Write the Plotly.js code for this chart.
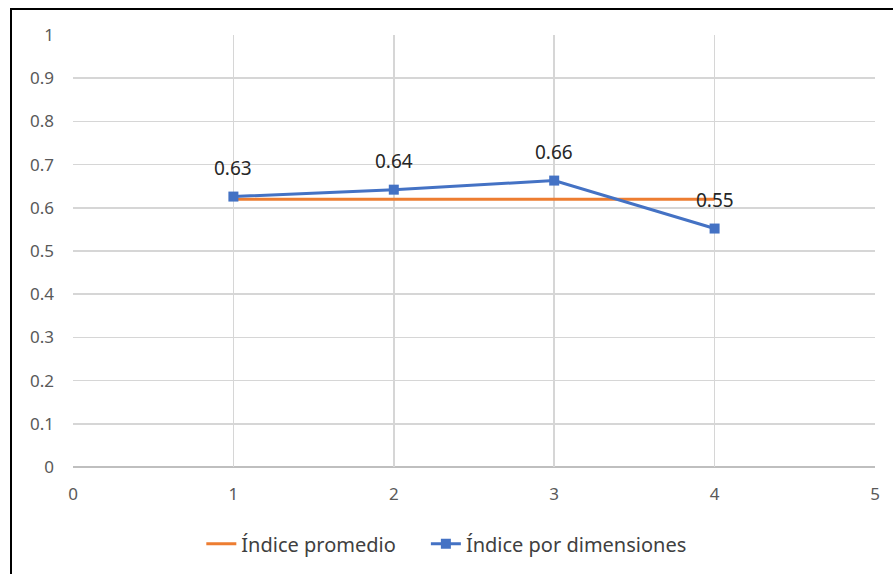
<!DOCTYPE html>
<html>
<head>
<meta charset="utf-8">
<script src="https://cdn.plot.ly/plotly-3.0.1.min.js"></script>
<style>
html,body{margin:0;padding:0;background:#fff;}
#wrap{position:relative;width:893px;height:574px;}
#chart{width:893px;height:574px;}
#frame{position:absolute;left:10px;top:8px;right:-10px;bottom:-10px;border-left:2.5px solid #000;border-top:2.5px solid #000;pointer-events:none;}
</style>
</head>
<body>
<div id="wrap"><div id="chart"></div><div id="frame"></div></div>
<script>
const xValues = [1, 2, 3, 4];
const promedio = [0.62, 0.62, 0.62, 0.62];
const dimensiones = [0.626, 0.642, 0.663, 0.552];
const dimLabels = ["0.63", "0.64", "0.66", "0.55"];
const xTicks = [0, 1, 2, 3, 4, 5];
const yTicks = [0, 0.1, 0.2, 0.3, 0.4, 0.5, 0.6, 0.7, 0.8, 0.9, 1];
const yTickText = ["0", "0.1", "0.2", "0.3", "0.4", "0.5", "0.6", "0.7", "0.8", "0.9", "1"];

const font = "Noto Sans, Open Sans, sans-serif";

const traces = [
  {
    x: xValues, y: promedio, name: "Índice promedio", type: "scatter", mode: "lines",
    line: {color: "#ED7D31", width: 3}, legend: "legend"
  },
  {
    x: xValues, y: dimensiones, name: "Índice por dimensiones", type: "scatter", mode: "lines+markers",
    line: {color: "#4472C4", width: 3},
    marker: {symbol: "square", size: 10, color: "#4472C4"}, legend: "legend2"
  }
];

const annotations = xValues.map((xv, i) => ({
  x: xv, y: dimensiones[i], text: dimLabels[i], showarrow: false,
  yshift: 29, xanchor: "center", yanchor: "middle",
  font: {family: font, size: 19, color: "#262626"}
}));

const legendFont = {family: font, size: 20, color: "#404040"};

const layout = {
  width: 893, height: 574,
  margin: {l: 73, r: 18, t: 35, b: 106},
  paper_bgcolor: "#fff", plot_bgcolor: "#fff",
  showlegend: true,
  legend: {
    orientation: "h", x: 0.16, xanchor: "left", y: -0.175, yanchor: "middle",
    font: legendFont
  },
  legend2: {
    orientation: "h", x: 0.44, xanchor: "left", y: -0.175, yanchor: "middle",
    font: legendFont
  },
  xaxis: {
    range: [0, 5], tickvals: xTicks, ticktext: xTicks.map(String),
    showgrid: true, gridcolor: "#d6d6d6", gridwidth: 1.5,
    zeroline: false, showline: false, ticks: "",
    ticklabelstandoff: 15,
    tickfont: {family: font, size: 17, color: "#595959"},
    fixedrange: true
  },
  yaxis: {
    range: [0, 1], tickvals: yTicks, ticktext: yTickText,
    showgrid: true, gridcolor: "#d6d6d6", gridwidth: 1.5,
    zeroline: false, showline: false, ticks: "",
    ticklabelstandoff: 18,
    tickfont: {family: font, size: 17, color: "#595959"},
    fixedrange: true
  },
  shapes: [
    {type: "line", xref: "paper", yref: "paper", x0: 0, x1: 1, y0: 0, y1: 0,
     line: {color: "#bfbfbf", width: 2}, layer: "below"}
  ],
  annotations: annotations
};

Plotly.newPlot("chart", traces, layout, {displayModeBar: false, staticPlot: true});
</script>
</body>
</html>
